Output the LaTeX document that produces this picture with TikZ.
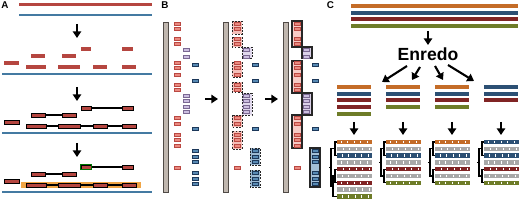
\documentclass[tikz,border=0pt]{standalone}
\usepackage{fontspec}
\setmainfont{Liberation Sans}
\usetikzlibrary{arrows.meta,positioning,backgrounds}
\definecolor{seqred}{RGB}{181,70,64}
\definecolor{seqblue}{RGB}{68,122,162}
\definecolor{chromfill}{RGB}{192,183,175}
\definecolor{chromline}{RGB}{80,74,70}
\definecolor{genered}{RGB}{234,138,128}
\definecolor{generedline}{RGB}{186,72,66}
\definecolor{genepurple}{RGB}{204,190,224}
\definecolor{genepurpleline}{RGB}{122,104,146}
\definecolor{geneblue}{RGB}{88,138,180}
\definecolor{geneblueline}{RGB}{28,56,90}
\definecolor{corange}{RGB}{196,108,40}
\definecolor{cnavy}{RGB}{44,80,116}
\definecolor{cred}{RGB}{128,36,36}
\definecolor{colive}{RGB}{110,124,40}
\definecolor{cgrey}{RGB}{168,168,168}
\definecolor{glowc}{RGB}{240,165,70}
\begin{document}
\begin{tikzpicture}[
    x=0.02cm, y=-0.02cm,
    panel/.style={font=\fontsize{5.6}{6}\selectfont\bfseries, inner sep=0},
    bigarrow/.style={-{Triangle[width=4.8pt,length=3.8pt]}, line width=1.2pt},
    seq/.style={line width=1.6pt},
    read1/.style={rectangle, fill=seqred, inner sep=0, minimum height=0.065cm},
    read2/.style={rectangle, draw=black, fill=seqred, line width=0.5pt, inner sep=0, minimum height=0.08cm},
    read3/.style={read2},
    link/.style={line width=0.6pt},
    chrom/.style={draw=chromline, fill=chromfill, line width=0.5pt},
    gene/.style={rectangle, inner sep=0, minimum width=0.12cm, minimum height=0.06cm, line width=0.4pt},
    gred/.style={gene, draw=generedline, fill=genered},
    gpurple/.style={gene, draw=genepurpleline, fill=genepurple},
    gblue/.style={gene, draw=geneblueline, fill=geneblue},
    clust/.style={line width=0.5pt, dash pattern=on 1pt off 0.8pt, draw=black!85},
    block/.style={line width=0.6pt, draw=black!85},
    cbar/.style={line width=2.2pt},
    crow/.style={line width=2.4pt},
    gtick/.style={white, line width=0.25pt},
    dendro/.style={line width=0.6pt}
]
\useasboundingbox (0,0) rectangle (520,202);
\node[panel] (labA) at (5,5) {A};
\draw[seq, seqred] (19,4.5) -- (152,4.5);
\draw[seq, seqblue] (19,15) -- (152,15);
\foreach \y in {74,133,192} \draw[seq, seqblue] (2,\y) -- (152,\y);
\foreach \y [count=\k] in {24,87,143}{
  \coordinate (aS\k) at (77,\y);
  \coordinate (aE\k) at (77,\y+14);
  \draw[bigarrow] (aS\k) -- (aE\k);
}
\draw[glowc, line width=3.6pt, line cap=rect] (24.5,185) -- (137.5,185);
\foreach \s/\dy in {1/0,2/59,3/118}
  \foreach \n/\xa/\xb/\y in {1/4/19/63,2/31/45/56,3/62/76/56,4/81/91/49,5/122/133/49,6/26/46/67,7/58/80/67,8/93/107/67,9/122/136/67}
    \node[read\s, minimum width=(\xb-\xa)*0.02cm] (r\s\n) at ({(\xa+\xb)/2},\y+\dy) {};
\foreach \s in {2,3}{
  \draw[link] (r\s2) -- (r\s3);
  \draw[link] (r\s4) -- (r\s5);
  \draw[link] (r\s6) -- (r\s7) -- (r\s8) -- (r\s9);
}
\draw[green!45!black, line width=0.8pt] (r34.south west) rectangle (r34.north east);

\node[panel] (labB) at (165,5) {B};
\foreach \bx in {163,223,283} \draw[chrom] (\bx,22) rectangle (\bx+5,192);
\foreach \ya/\yb in {21/34,37/47,62/77,82/92,115/127,131/149}
  \draw[clust, fill=genered!55] (232,\ya) rectangle (242,\yb);
\foreach \ya/\yb in {47/58,93/115}
  \draw[clust, fill=genepurple!60] (242,\ya) rectangle (252,\yb);
\foreach \ya/\yb in {148/165,170/187}
  \draw[clust, fill=geneblue!60] (250,\ya) rectangle (260,\yb);
\foreach \ya/\yb in {21/47,61/93,115/148}
  \draw[block, fill=genered!45] (292,\ya) rectangle (302,\yb);
\foreach \ya/\yb in {47/58,93/115}
  \draw[block, fill=genepurple!70] (302,\ya) rectangle (312,\yb);
\draw[block, fill=geneblue!55] (310,148) rectangle (320,187);
\foreach \bx [count=\c] in {163,223,283}{
  \foreach \y in {24,29,39,44,63,68,75,85,90,118,124,135,140,146,168}
    \node[gred] (gr\c-\y) at (\bx+14,\y) {};
  \foreach \y in {50,57,96,101,107,112}
    \node[gpurple] (gp\c-\y) at (\bx+23.5,\y) {};
  \foreach \y in {65,81,129,151,157,162,173,179,184}
    \node[gblue] (gb\c-\y) at (\bx+32.5,\y) {};
}
\foreach \x [count=\k] in {205,265}{
  \coordinate (bS\k) at (\x,99);
  \coordinate (bE\k) at (\x+13,99);
  \draw[bigarrow] (bS\k) -- (bE\k);
}

\node[panel] (labC) at (330.5,5) {C};
\foreach \c [count=\i from 0] in {corange,cnavy,cred,colive}
  \draw[cbar, draw=\c] (351,6+6.67*\i) -- (518,6+6.67*\i);
\node[font=\fontsize{10}{12}\selectfont\bfseries, inner sep=0] (enredo) at (428,54) {Enredo};
\coordinate (cS) at (428,31);
\coordinate (cE) at (428,45);
\draw[bigarrow] (cS) -- (cE);
\foreach \xa/\ya/\xb/\yb [count=\k] in {407/66/382/82,420/67/412/80,435/66/443/80,448/65/474/81}{
  \coordinate (dS\k) at (\xa,\ya);
  \coordinate (dE\k) at (\xb,\yb);
  \draw[bigarrow] (dS\k) -- (dE\k);
}
\foreach \gx/\cols in {337/{corange,cnavy,cred,cred,colive},386/{corange,cnavy,cred,colive},435/{corange,cnavy,cred,colive},484/{cnavy,cnavy,cred}}{
  \foreach \c [count=\i from 0] in \cols
    \draw[cbar, draw=\c] (\gx,87+6.7*\i) -- (\gx+34,87+6.7*\i);
  \coordinate (tS\gx) at (\gx+17,122);
  \coordinate (tE\gx) at (\gx+17,135);
  \draw[bigarrow] (tS\gx) -- (tE\gx);
}
\foreach \gx/\cols in {337/{corange,cgrey,cnavy,cgrey,cred,cgrey,cred,cgrey,colive},386/{corange,cgrey,cnavy,cgrey,cred,cgrey,colive},435/{corange,cgrey,cnavy,cgrey,cred,cgrey,colive},484/{cnavy,cgrey,cnavy,cgrey,cred,cgrey,colive}}
  \foreach \c [count=\i from 0] in \cols {
    \draw[crow, draw=\c] (\gx,142+6.8*\i) -- (\gx+35,142+6.8*\i);
    \foreach \t in {4,10,17,23,30}
      \draw[gtick] ({\gx+\t+mod(\i*2,3)},140.8+6.8*\i) -- ++(0,2.4);
  }
\draw[dendro] (337,142) -| (335,155.6) -- (337,155.6);
\draw[dendro] (337,169.2) -| (335,182.8) -- (337,182.8);
\draw[dendro] (335,176) -| (333,196.4) -- (337,196.4);
\draw[dendro] (335,148.8) -| (331,186.2) -- (333,186.2);
\draw[dendro] (331,167.5) -- (329,167.5);
\foreach \gx in {386,435,484}{
  \draw[dendro] (\gx,142) -| (\gx-2,155.6) -- (\gx,155.6);
  \draw[dendro] (\gx,169.2) -| (\gx-2,182.8) -- (\gx,182.8);
  \draw[dendro] (\gx-2,148.8) -| (\gx-5,176) -- (\gx-2,176);
  \draw[dendro] (\gx-5,162.4) -- (\gx-7,162.4);
}
\end{tikzpicture}
\end{document}
